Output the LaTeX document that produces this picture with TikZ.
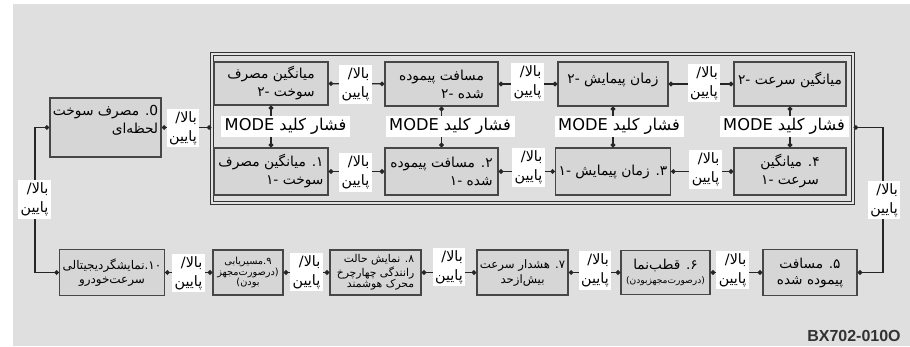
\documentclass[tikz,border=0pt]{standalone}
\usepackage{fontspec}
\setmainfont{Liberation Sans}
\newfontfamily\arabicfont[Script=Arabic, Scale=1.3]{DejaVu Sans}
\TeXXeTstate=1
\usetikzlibrary{arrows.meta}
\newcommand{\fa}[1]{{\arabicfont\beginR #1\endR}}

\begin{document}
\begin{tikzpicture}[x=1pt, y=-1pt,
    panel/.style={draw=black!72, line width=1.5pt, fill=gray!32, inner sep=3pt, align=right, font=\fontsize{10.6}{18}\selectfont},
    lowpanel/.style={panel, minimum height=45pt, align=center, font=\fontsize{10.5}{16}\selectfont},
    updown/.style={fill=white, inner sep=2.5pt, align=right, font=\fontsize{11}{19}\selectfont},
    modekey/.style={fill=white, minimum width=129pt, minimum height=21pt, inner sep=1pt, font=\fontsize{12.5}{14}\selectfont},
    link/.style={draw=black!85, line width=1.3pt, {Circle[length=4.5pt]}-{Circle[length=4.5pt]}}]

    % fondo
    \useasboundingbox (0,0) rectangle (910,346);
    \fill[gray!25] (13,4) rectangle (910,346);

    % === marco doble ===
    \node[draw=black!80, line width=1.1pt, double=gray!22, double distance=2.2pt,
          minimum width=641pt, minimum height=149pt] (frame) at (532.5,128.5) {};

    % === fila superior ===
    \node[panel, minimum width=114pt, minimum height=43pt] (avgfuelB) at (271,83.5)
        {\fa{میانگین مصرف}\\\fa{سوخت -۲}};
    \node[panel, minimum width=113pt, minimum height=44pt] (distB) at (441.5,84)
        {\fa{مسافت پیموده}\\\fa{شده -۲}};
    \node[panel, minimum width=110pt, minimum height=44pt] (timeB) at (613,84)
        {\fa{زمان پیمایش -۲}\\[-6pt]};
    \node[panel, minimum width=112pt, minimum height=44pt] (avgspeedB) at (790,84)
        {\fa{میانگین سرعت -۲}\\[-6pt]};

    % === fila inferior ===
    \node[panel, minimum width=114pt, minimum height=47pt] (avgfuelA) at (271,171.5)
        {\fa{۱. میانگین مصرف}\\\fa{سوخت -۱}};
    \node[panel, minimum width=113pt, minimum height=47pt] (distA) at (441.5,171.5)
        {\fa{۲. مسافت پیموده}\\\fa{شده -۱}};
    \node[panel, minimum width=110pt, minimum height=47pt] (timeA) at (613,171.5)
        {\fa{۳. زمان پیمایش -۱}};
    \node[panel, minimum width=112pt, minimum height=47pt, align=center] (avgspeedA) at (790,171.5)
        {\fa{۴. میانگین}\\\fa{سرعت -۱}};

    % === consumo instantaneo ===
    \node[panel, minimum width=105pt, minimum height=59pt] (inst) at (105.5,127.5)
        {\fa{0. مصرف سوخت}\\\fa{لحظه‌ای}\\[-2pt]};

    % === fila de abajo ===
    \node[lowpanel, minimum width=94pt, minimum height=46pt] (dist) at (810,272.5)
        {\fa{۵. مسافت}\\\fa{پیموده شده}};
    \node[lowpanel, minimum width=89pt, minimum height=44pt] (compass) at (665.5,272.5)
        {\fa{۶. قطب‌نما}\\[-2pt]{\fontsize{7}{8}\selectfont\fa{(درصورت‌مجهزبودن)}}};
    \node[lowpanel, minimum width=91pt, font=\fontsize{9}{15}\selectfont] (warn) at (522.5,272.5)
        {\fa{۷. هشدار سرعت}\\\fa{بیش‌ازحد}};
    \node[lowpanel, minimum width=91pt, align=right, font=\fontsize{8.3}{10.5}\selectfont] (awd) at (375.5,272.5)
        {\fa{۸. نمایش حالت}\\\fa{رانندگی چهارچرخ}\\\fa{محرک هوشمند}};
    \node[lowpanel, minimum width=70pt, font=\fontsize{7.5}{10.5}\selectfont] (nav) at (248,272.5)
        {\fa{۹.مسیریابی}\\\fa{(درصورت‌مجهز}\\\fa{بودن)}};
    \node[lowpanel, minimum width=100pt, minimum height=46pt, font=\fontsize{9.2}{14}\selectfont] (speed) at (112,272.5)
        {\fa{۱۰.نمایشگردیجیتالی}\\\fa{سرعت‌خودرو}};

    \coordinate (lbend) at (35,200);
    \coordinate (rbend) at (883,200);

    % === conexiones ===
    \draw[link] (avgfuelB) -- (distB);
    \draw[link] (distB) -- (timeB);
    \draw[link] (timeB) -- (avgspeedB);
    \draw[link] (avgfuelA) -- (distA);
    \draw[link] (distA) -- (timeA);
    \draw[link] (timeA) -- (avgspeedA);
    \draw[link] (avgfuelB) -- (avgfuelA);
    \draw[link] (distB) -- (distA);
    \draw[link] (timeB) -- (timeA);
    \draw[link] (avgspeedB) -- (avgspeedA);
    \draw[link] (inst.east) -- (frame.west |- inst.east);
    \draw[link] (inst.west) -| (lbend) |- (speed.west);
    \draw[link] (frame.east |- inst.east) -| (rbend) |- (dist.east);
    \draw[link] (dist) -- (compass);
    \draw[link] (compass) -- (warn);
    \draw[link] (warn) -- (awd);
    \draw[link] (awd) -- (nav);
    \draw[link] (nav) -- (speed);

    % === etiquetas arriba/abajo ===
    \node[updown] (ud1) at (355.5,84.5) {\fa{بالا/}\\\fa{پایین}};
    \node[updown] (ud2) at (527.5,82) {\fa{بالا/}\\\fa{پایین}};
    \node[updown] (ud3) at (704,83) {\fa{بالا/}\\\fa{پایین}};
    \node[updown] (ud4) at (355.5,172.5) {\fa{بالا/}\\\fa{پایین}};
    \node[updown] (ud5) at (528.5,167.5) {\fa{بالا/}\\\fa{پایین}};
    \node[updown] (ud6) at (705.5,169.5) {\fa{بالا/}\\\fa{پایین}};
    \node[updown] (ud7) at (183,128) {\fa{بالا/}\\\fa{پایین}};
    \node[updown] (ud8) at (34.5,199.5) {\fa{بالا/}\\\fa{پایین}};
    \node[updown] (ud9) at (884,200) {\fa{بالا/}\\\fa{پایین}};
    \node[updown] (ud10) at (732.5,270) {\fa{بالا/}\\\fa{پایین}};
    \node[updown] (ud11) at (595,270.5) {\fa{بالا/}\\\fa{پایین}};
    \node[updown] (ud12) at (449,267) {\fa{بالا/}\\\fa{پایین}};
    \node[updown] (ud13) at (306.5,272) {\fa{بالا/}\\\fa{پایین}};
    \node[updown] (ud14) at (188.5,273) {\fa{بالا/}\\\fa{پایین}};

    % === tecla MODE ===
    \node[modekey] (mode1) at (285.5,126.5) {\fa{فشار کلید \beginL MODE\endL{}}};
    \node[modekey] (mode2) at (450,126.5) {\fa{فشار کلید \beginL MODE\endL{}}};
    \node[modekey] (mode3) at (619,126.5) {\fa{فشار کلید \beginL MODE\endL{}}};
    \node[modekey] (mode4) at (784,126.5) {\fa{فشار کلید \beginL MODE\endL{}}};

    % codigo
    \node[text=black!80, font=\bfseries\fontsize{16}{16}\selectfont] (code) at (854,335.5) {BX702-010O};

\end{tikzpicture}
\end{document}
